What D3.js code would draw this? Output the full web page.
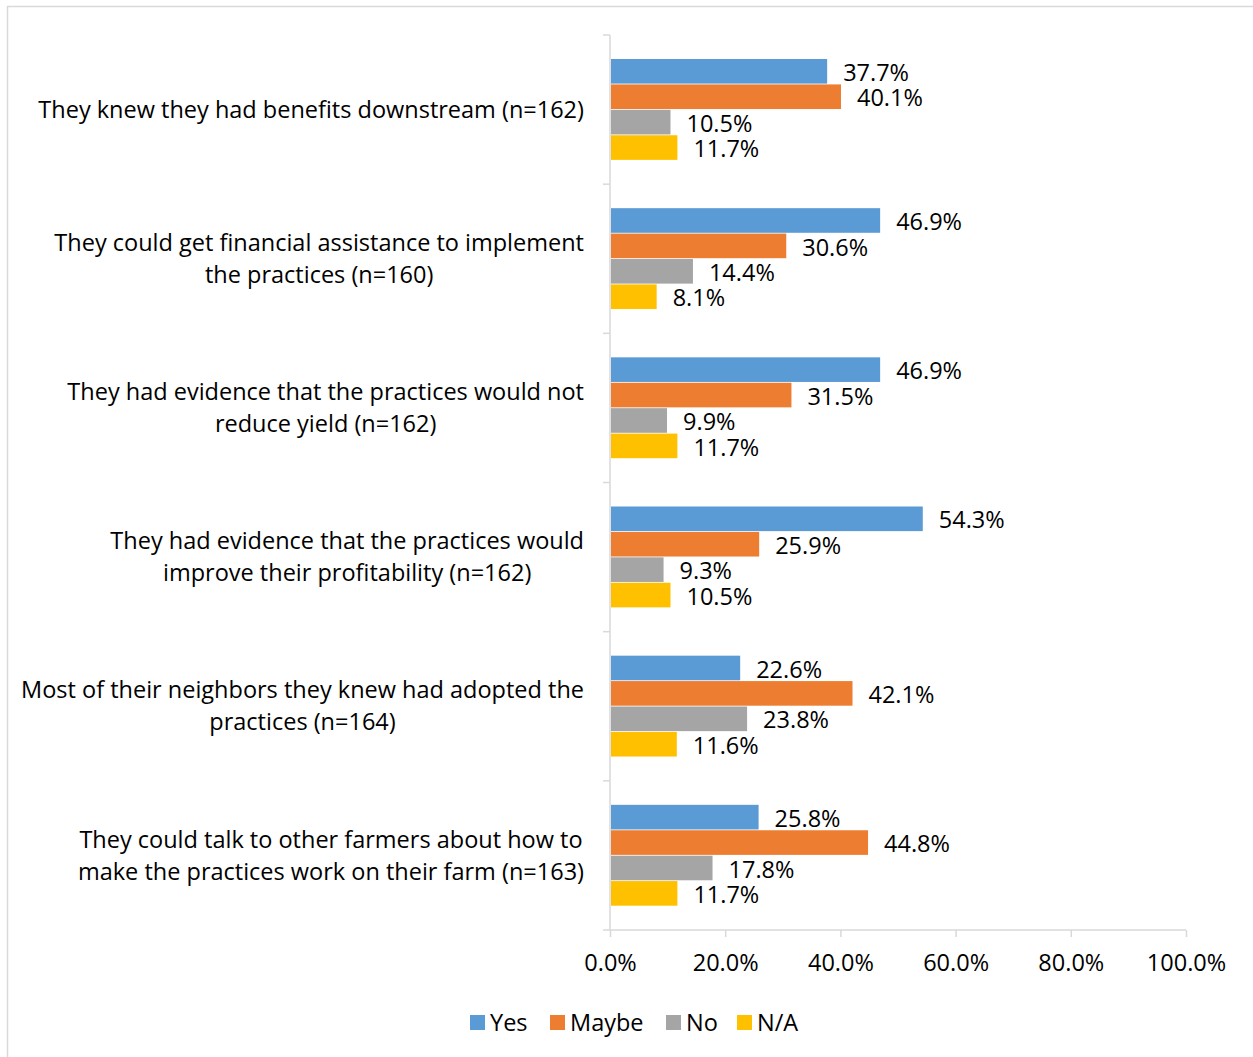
<!DOCTYPE html>
<html>
<head>
<meta charset="utf-8">
<script src="https://cdn.jsdelivr.net/npm/d3@7"></script>
<style>
  html,body{margin:0;padding:0;background:#fff;}
  svg{display:block;font-family:"Open Sans",sans-serif;}
</style>
</head>
<body>
<div id="chart"></div>
<script>
(function(){
'use strict';

// ---- data ----
const categories=[
  'They knew they had benefits downstream (n=162)',
  'They could get financial assistance to implement\nthe practices (n=160)',
  'They had evidence that the practices would not\nreduce yield (n=162)',
  'They had evidence that the practices would\nimprove their profitability (n=162)',
  'Most of their neighbors they knew had adopted the\npractices (n=164)',
  'They could talk to other farmers about how to\nmake the practices work on their farm (n=163)'
];
const seriesNames=['Yes','Maybe','No','N/A'];
const yesVals=[37.7,46.9,46.9,54.3,22.6,25.8];
const maybeVals=[40.1,30.6,31.5,25.9,42.1,44.8];
const noVals=[10.5,14.4,9.9,9.3,23.8,17.8];
const naVals=[11.7,8.1,11.7,10.5,11.6,11.7];
const xTicks=[0,20,40,60,80,100];

const COLORS=['#5B9BD5','#ED7D31','#A5A5A5','#FFC000'];
const seriesVals=[yesVals,maybeVals,noVals,naVals];

const W=1253,H=1057;
const FS=23.5;

const svg=d3.select('#chart').append('svg')
  .attr('width',W).attr('height',H).attr('viewBox',`0 0 ${W} ${H}`);

// chart border (cropped at right/bottom)
svg.append('rect').attr('x',7.5).attr('y',6.5).attr('width',1300).attr('height',1100)
  .attr('fill','none').attr('stroke','#d9d9d9').attr('stroke-width',1.5);

const x=d3.scaleLinear().domain([0,100]).range([610,1186]);
const y=d3.scaleBand().domain(categories).range([35,930]);
const inner=d3.scaleBand().domain(seriesNames).range([24,y.bandwidth()-23.5]);

// axes
const gx=svg.append('g').attr('transform','translate(0,930)')
  .call(d3.axisBottom(x).tickValues(xTicks).tickSize(7).tickPadding(17)
    .tickFormat(d=>d.toFixed(1)+'%'));
gx.select('.domain').remove();
gx.append('line').attr('x1',603).attr('x2',1186).attr('stroke','#d9d9d9').attr('stroke-width',1.5);
gx.selectAll('.tick line').attr('stroke','#d9d9d9').attr('stroke-width',1.5);
gx.selectAll('.tick text').attr('fill','#000').style('font-size',FS+'px')
  .style('font-family','"Open Sans",sans-serif').attr('dy','0.71em');

const yBounds=categories.map(c=>y(c)).concat([930]);
const gy=svg.append('g');
gy.append('line').attr('x1',610).attr('x2',610).attr('y1',35).attr('y2',930)
  .attr('stroke','#d9d9d9').attr('stroke-width',1.5);
gy.selectAll('.ytick').data(yBounds.slice(0,-1)).enter().append('line')
  .attr('x1',603).attr('x2',610).attr('y1',d=>d).attr('y2',d=>d)
  .attr('stroke','#d9d9d9').attr('stroke-width',1.5);

// category labels: block right-aligned, lines centered in block
categories.forEach(c=>{
  const lines=c.split('\n');
  const cy=y(c)+y.bandwidth()/2;
  const lh=32;
  const t=svg.append('g');
  const texts=lines.map((ln,i)=>t.append('text')
    .attr('y',cy+(i-(lines.length-1)/2)*lh).attr('dy','0.35em')
    .attr('text-anchor','middle').attr('fill','#000').style('font-size',FS+'px').text(ln));
  const maxW=d3.max(texts,tx=>tx.node().getComputedTextLength());
  texts.forEach(tx=>tx.attr('x',584-maxW/2));
});

// bars
const groups=svg.selectAll('.cat').data(categories).enter().append('g')
  .attr('transform',c=>`translate(0,${y(c)})`);
seriesNames.forEach((s,si)=>{
  groups.append('rect')
    .attr('x',x(0)+1)
    .attr('y',inner(s))
    .attr('width',(c,ci)=>x(seriesVals[si][ci])-x(0)-1)
    .attr('height',inner.bandwidth()-0.8)
    .attr('fill',COLORS[si]);
  groups.append('text')
    .attr('x',(c,ci)=>x(seriesVals[si][ci])+16)
    .attr('y',inner(s)+inner.bandwidth()/2+1).attr('dy','0.35em')
    .attr('fill','#000').style('font-size',FS+'px')
    .text((c,ci)=>seriesVals[si][ci].toFixed(1)+'%');
});

// legend
const legX=[470,550,666,737];
const leg=svg.selectAll('.leg').data(seriesNames).enter().append('g')
  .attr('transform',(d,i)=>`translate(${legX[i]},1015)`);
leg.append('rect').attr('width',15).attr('height',15).attr('fill',(d,i)=>COLORS[i]);
leg.append('text').attr('x',20).attr('y',7.5).attr('dy','0.35em')
  .attr('fill','#000').style('font-size',FS+'px').text(d=>d);

})();
</script>
</body>
</html>
